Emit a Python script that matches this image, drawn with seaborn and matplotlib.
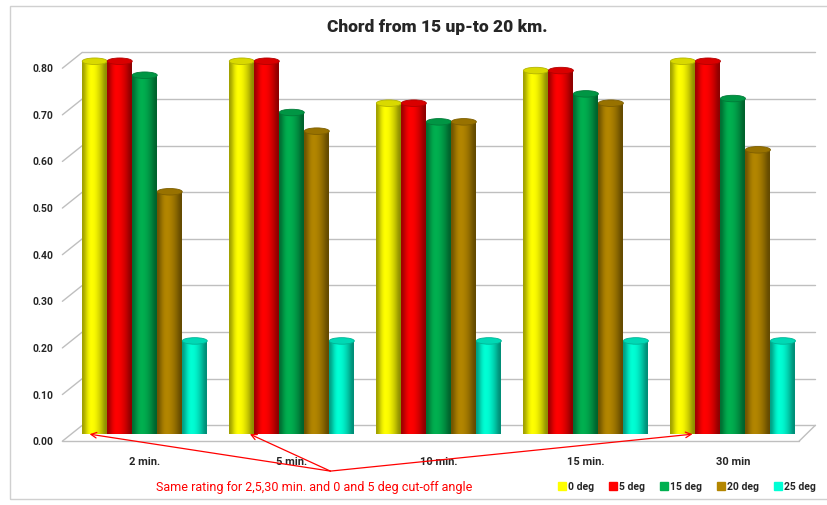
import pandas as pd
import numpy as np
import matplotlib.pyplot as plt
import matplotlib.colors as mcolors
from matplotlib.patches import Rectangle, Ellipse
import seaborn as sns

# valores
intervals = ['2 min.', '5 min.', '10 min.', '15 min.', '30 min']
angles = ['0 deg', '5 deg', '15 deg', '20 deg', '25 deg']
deg0 = [0.80, 0.80, 0.71, 0.78, 0.80]
deg5 = [0.80, 0.80, 0.71, 0.78, 0.80]
deg15 = [0.77, 0.69, 0.67, 0.73, 0.72]
deg20 = [0.52, 0.65, 0.67, 0.71, 0.61]
deg25 = [0.20, 0.20, 0.20, 0.20, 0.20]
yticks = [0.0, 0.1, 0.2, 0.3, 0.4, 0.5, 0.6, 0.7, 0.8]
colors = ['#FFFF00', '#FF0000', '#00B050', '#B38600', '#00FFD5']

rows = []
for ang, vals in zip(angles, [deg0, deg5, deg15, deg20, deg25]):
    for cat, v in zip(intervals, vals):
        rows.append({'Intervalo': cat, 'Angulo': ang, 'Valor': v})
df = pd.DataFrame(rows)

sns.set_style('white')
plt.rcParams['font.family'] = ['Roboto', 'DejaVu Sans']

fig = plt.figure(figsize=(8.28, 5.06), dpi=100)
ax = fig.add_axes([0.086, 0.140, 0.888, 0.737])

sns.barplot(data=df, x='Intervalo', y='Valor', hue='Angulo', order=intervals,
            hue_order=angles, palette=colors, width=0.85, saturation=1, ax=ax,
            legend=False, zorder=3)

ax.set_ylim(0, 0.8)
ax.set_xlim(-0.5, 4.5)

# sombreamento de cilindro
shade = np.array([0.62, 0.85, 1.0, 1.0, 0.95, 0.85, 0.72, 0.55])
bars = list(ax.patches)
for p in bars:
    fc = np.array(mcolors.to_rgb(p.get_facecolor()))
    x0, w, h = p.get_x(), p.get_width(), p.get_height()
    grad = np.clip(fc[None, None, :] * shade[None, :, None], 0, 1)
    im = ax.imshow(grad, extent=(x0, x0 + w, 0, h), aspect='auto',
                   interpolation='bicubic', zorder=3)
    im.set_clip_path(p)
    p.set_edgecolor('none')
    top = Ellipse((x0 + w / 2, h), w, 0.014, facecolor=fc * 0.85,
                  edgecolor=fc * 0.7, lw=0.6, zorder=4, clip_on=False)
    ax.add_patch(top)
ax.set_xlim(-0.5, 4.5)
ax.set_ylim(0, 0.8)

ax.set_xlabel('')
ax.set_ylabel('')
ax.set_yticks([])
sns.despine(ax=ax, left=True, bottom=True)
ax.tick_params(axis='x', length=0, pad=16)
for t in ax.get_xticklabels():
    t.set_fontweight('bold')
    t.set_fontsize(8)

# grade no fundo + ligacoes inclinadas
tr = ax.get_yaxis_transform()
for v in yticks:
    ax.plot([0.015, 1.012], [v + 0.019, v + 0.019], transform=tr, color='#BFBFBF',
            lw=1.0, clip_on=False, zorder=1)
    ax.plot([-0.012, 0.015], [v - 0.015, v + 0.019], transform=tr, color='#BFBFBF',
            lw=1.0, clip_on=False, zorder=1)
    ax.text(-0.024, v - 0.015, f'{v:.2f}', transform=tr, ha='right', va='center',
            fontsize=7.5, fontweight='bold')
# piso
ax.plot([-0.012, 0.99], [-0.015, -0.015], transform=tr, color='#BFBFBF', lw=1.0,
        clip_on=False, zorder=1)
ax.plot([0.99, 1.012], [-0.015, 0.019], transform=tr, color='#BFBFBF', lw=1.0,
        clip_on=False, zorder=1)

fig.text(0.528, 0.947, 'Chord from 15 up-to 20 km.', ha='center', va='center',
         fontsize=12.5, fontweight='heavy')

# anotacao com setas
fig.text(0.38, 0.037, 'Same rating for 2,5,30 min. and 0 and 5 deg cut-off angle',
         color='red', ha='center', va='center', fontsize=9)
yellow = bars[:5]
for idx, off in [(0, 0.05), (1, 0.14), (4, 0.15)]:
    p = yellow[idx]
    ax.annotate('', xy=(p.get_x() + off, 0.0), xycoords='data',
                xytext=(0.399, 0.067), textcoords='figure fraction',
                arrowprops=dict(arrowstyle='->', color='red', lw=0.9,
                                shrinkA=0, shrinkB=0), zorder=6)

handles = [plt.Line2D([], [], marker='s', color=c, linestyle='', markersize=6)
           for c in colors]
leg = fig.legend(handles, angles, loc='center', bbox_to_anchor=(0.83, 0.037),
                 ncol=5, frameon=False, handlelength=0.6, handletextpad=0.3,
                 columnspacing=1.5, prop={'size': 7.5, 'weight': 'bold'})

fig.patches.append(Rectangle((0.012, 0.012), 0.99, 0.975, transform=fig.transFigure,
                             fill=False, edgecolor='#D0D0D0', lw=1.0))

plt.savefig('out.png', dpi=100)
